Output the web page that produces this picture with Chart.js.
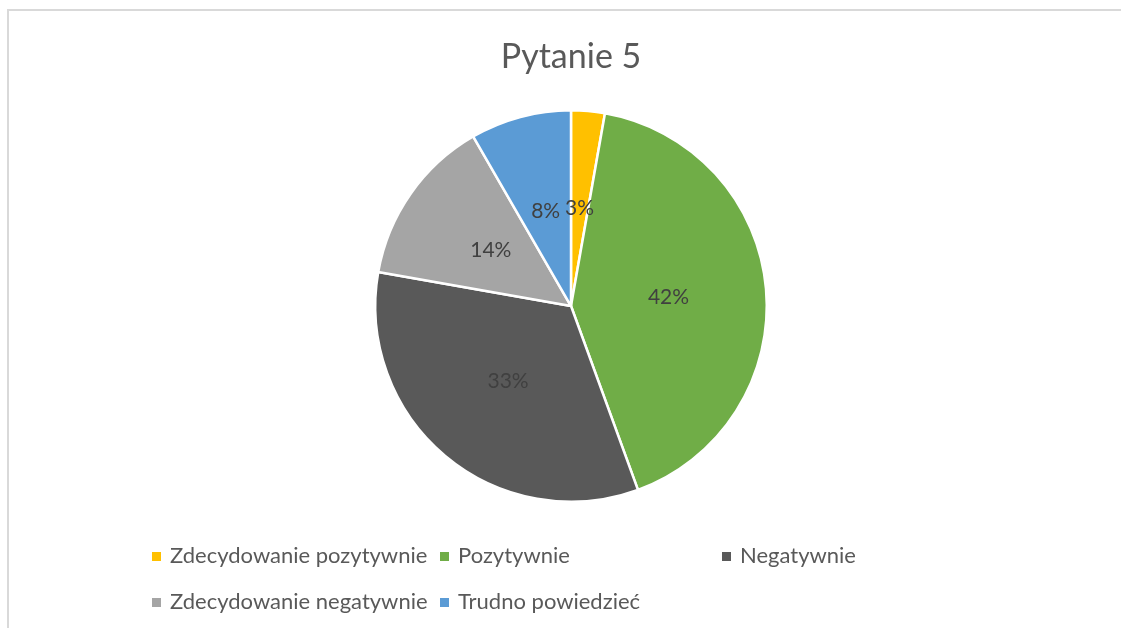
<!DOCTYPE html>
<html>
<head>
<meta charset="utf-8">
<script src="https://cdn.jsdelivr.net/npm/chart.js@4/dist/chart.umd.min.js"></script>
<style>
  html, body { margin: 0; padding: 0; background: #fff; }
  #wrap { position: relative; width: 1121px; height: 628px; overflow: hidden; font-family: Lato, "Open Sans", sans-serif; }
  #frame { position: absolute; left: 7px; top: 9px; width: 1200px; height: 700px; border-left: 2px solid #d9d9d9; border-top: 2px solid #d9d9d9; }
  #title { position: absolute; left: 0; width: 1142px; top: 35px; text-align: center; font-size: 34px; color: #595959; line-height: 40px; }
  canvas#c { position: absolute; left: 0; top: 0; }
  .lg { position: absolute; font-size: 22px; color: #595959; line-height: 24px; white-space: nowrap; }
  .lg span.m { display: inline-block; width: 9px; height: 9px; margin-right: 9px; vertical-align: 2px; }
</style>
</head>
<body>
<div id="wrap">
  <div id="frame"></div>
  <canvas id="c" width="1121" height="628"></canvas>
  <div id="title"></div>
  <div id="legend"></div>
</div>
<script>
const titleText = "Pytanie 5";
const categories = ["Zdecydowanie pozytywnie", "Pozytywnie", "Negatywnie", "Zdecydowanie negatywnie", "Trudno powiedzieć"];
const counts = [1, 15, 12, 5, 3];
const colors = ["#FFC000", "#70AD47", "#595959", "#A5A5A5", "#5B9BD5"];

document.getElementById('title').textContent = titleText;

// legend in Excel-like grid
const legendPos = [[152, 543], [440, 543], [722, 543], [152, 589], [440, 589]];
const lg = document.getElementById('legend');
categories.forEach((name, i) => {
  const d = document.createElement('div');
  d.className = 'lg';
  d.style.left = legendPos[i][0] + 'px';
  d.style.top = legendPos[i][1] + 'px';
  const m = document.createElement('span');
  m.className = 'm';
  m.style.background = colors[i];
  d.appendChild(m);
  d.appendChild(document.createTextNode(name));
  lg.appendChild(d);
});

const pctLabels = {
  id: 'pctLabels',
  afterDatasetsDraw(chart) {
    const ctx = chart.ctx;
    const ds = chart.data.datasets[0];
    const total = ds.data.reduce((a, b) => a + b, 0);
    const meta = chart.getDatasetMeta(0);
    ctx.save();
    ctx.font = '21px Lato, "Open Sans", sans-serif';
    ctx.fillStyle = '#404040';
    ctx.textAlign = 'center';
    ctx.textBaseline = 'middle';
    meta.data.forEach((arc, i) => {
      const p = arc.tooltipPosition();
      ctx.fillText(Math.round(ds.data[i] / total * 100) + '%', p.x, p.y);
    });
    ctx.restore();
  }
};

new Chart(document.getElementById('c'), {
  type: 'pie',
  data: {
    labels: categories,
    datasets: [{
      data: counts,
      backgroundColor: colors,
      borderColor: '#ffffff',
      borderWidth: 2.5
    }]
  },
  options: {
    responsive: false,
    animation: false,
    layout: { padding: { left: 374, right: 353, top: 109, bottom: 125 } },
    plugins: {
      legend: { display: false },
      tooltip: { enabled: false },
      title: { display: false }
    }
  },
  plugins: [pctLabels]
});
</script>
</body>
</html>
